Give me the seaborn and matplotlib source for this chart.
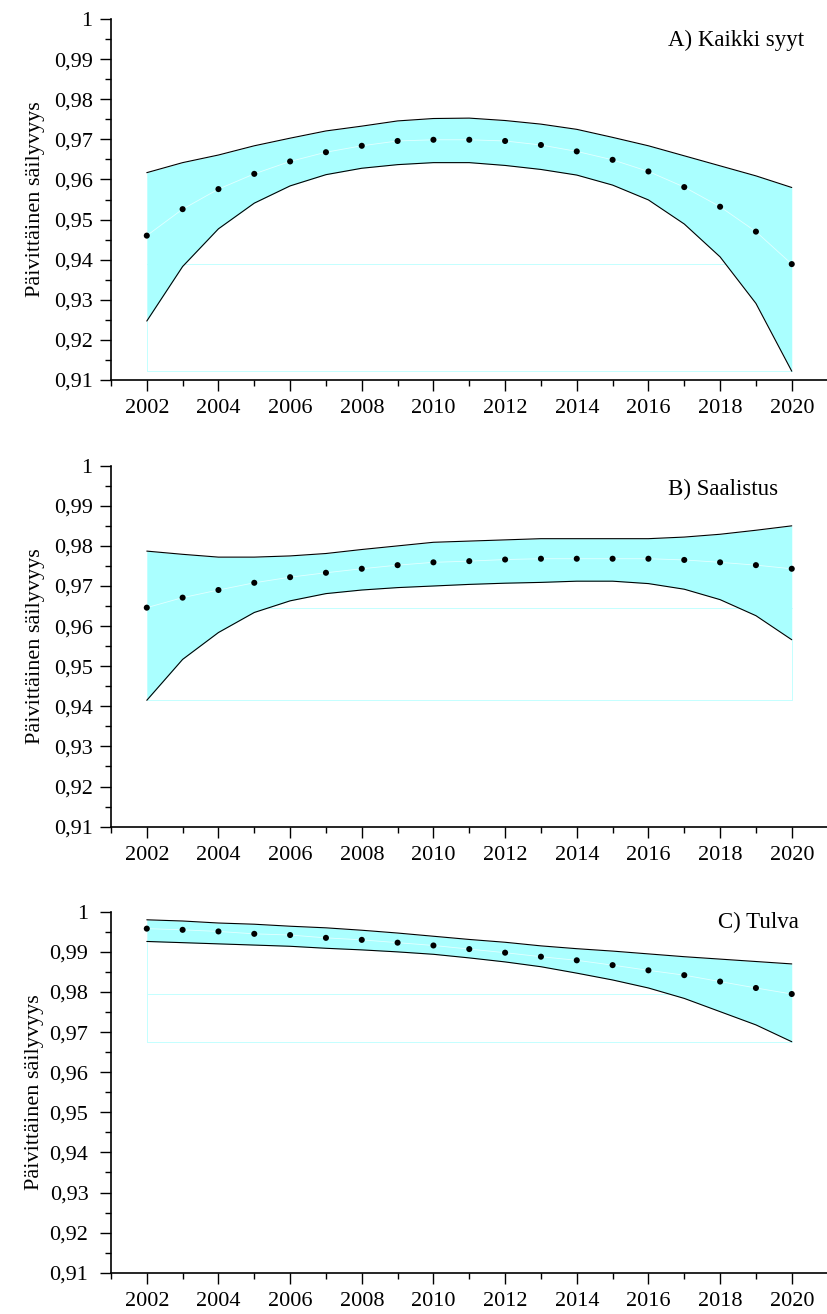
import numpy as np
import pandas as pd
import seaborn as sns
import matplotlib
matplotlib.use('Agg')
import matplotlib.pyplot as plt
from matplotlib.ticker import MultipleLocator, FuncFormatter

sns.set_theme(style='ticks')
plt.rcParams['font.family'] = ['Liberation Serif', 'DejaVu Serif']

years = list(range(2002, 2021))

# A) Kaikki syyt
a_mean = [0.9460, 0.9526, 0.9576, 0.9614, 0.9645, 0.9668, 0.9684, 0.9696, 0.9699, 0.9699,
          0.9696, 0.9686, 0.9670, 0.9649, 0.9620, 0.9581, 0.9532, 0.9470, 0.9389]
a_upper = [0.9617, 0.9642, 0.9661, 0.9684, 0.9703, 0.9721, 0.9733, 0.9746, 0.9752, 0.9753,
           0.9747, 0.9738, 0.9725, 0.9705, 0.9684, 0.9659, 0.9634, 0.9609, 0.9580]
a_lower = [0.9247, 0.9383, 0.9477, 0.9541, 0.9584, 0.9612, 0.9628, 0.9637, 0.9642, 0.9642,
           0.9635, 0.9625, 0.9611, 0.9586, 0.9549, 0.9489, 0.9407, 0.9291, 0.9122]

# B) Saalistus
b_mean = [0.9646, 0.9671, 0.9690, 0.9708, 0.9722, 0.9733, 0.9743, 0.9752, 0.9759, 0.9762,
          0.9766, 0.9768, 0.9768, 0.9768, 0.9768, 0.9765, 0.9759, 0.9752, 0.9743]
b_upper = [0.9787, 0.9779, 0.9772, 0.9772, 0.9775, 0.9781, 0.9791, 0.9800, 0.9809, 0.9812,
           0.9815, 0.9818, 0.9818, 0.9818, 0.9818, 0.9822, 0.9829, 0.9839, 0.9850]
b_lower = [0.9415, 0.9517, 0.9584, 0.9634, 0.9663, 0.9681, 0.9690, 0.9696, 0.9700, 0.9704,
           0.9707, 0.9709, 0.9712, 0.9712, 0.9706, 0.9692, 0.9666, 0.9626, 0.9566]

# C) Tulva
c_mean = [0.9958, 0.9955, 0.9951, 0.9945, 0.9942, 0.9935, 0.9930, 0.9923, 0.9916, 0.9907,
          0.9898, 0.9888, 0.9879, 0.9867, 0.9854, 0.9842, 0.9826, 0.9810, 0.9795]
c_upper = [0.9980, 0.9977, 0.9972, 0.9969, 0.9964, 0.9960, 0.9954, 0.9947, 0.9939, 0.9931,
           0.9924, 0.9915, 0.9908, 0.9902, 0.9895, 0.9888, 0.9882, 0.9876, 0.9870]
c_lower = [0.9926, 0.9923, 0.9920, 0.9917, 0.9914, 0.9909, 0.9905, 0.9900, 0.9894, 0.9885,
           0.9875, 0.9863, 0.9847, 0.9830, 0.9810, 0.9784, 0.9751, 0.9718, 0.9676]

panels = [
    ('A) Kaikki syyt', a_mean, a_upper, a_lower, 2016.55, 0.99335),
    ('B) Saalistus', b_mean, b_upper, b_lower, 2016.55, 0.99262),
    ('C) Tulva', c_mean, c_upper, c_lower, 2017.95, 0.99602),
]

band_col = '#aaffff'
ghost_col = '#c4ffff'

fig = plt.figure(figsize=(8.28, 13.14), dpi=100)
bottoms = [0.7108, 0.3709, 0.0314]
ypads = [5.5, 5.5, 8.5]
lpads = [6, 6, 4]
height = 0.2747
left = 0.134
width = 0.8655

for (title, mean, upper, lower, tx, ty), bottom, yp, lp in zip(panels, bottoms, ypads, lpads):
    ax = fig.add_axes([left, bottom, width, height])
    df = pd.DataFrame({'year': years, 'mean': mean, 'upper': upper, 'lower': lower})

    # faint edges left by the original fill routine
    i_min = int(np.argmin(df['lower']))
    base = df['lower'].min()
    ax.plot([years[0], years[-1]], [base, base], color=ghost_col, lw=0.7, zorder=1)
    ax.plot([years[0], years[-1]], [df['mean'][i_min]] * 2, color=ghost_col, lw=0.7, zorder=1)
    for i in (0, len(years) - 1):
        ax.plot([years[i], years[i]], [df['lower'][i], base], color=ghost_col, lw=0.7, zorder=1)

    ax.fill_between(df['year'], df['lower'], df['upper'], color=band_col, lw=0, zorder=2)
    sns.lineplot(data=df, x='year', y='mean', ax=ax, color='#e2ffff', lw=0.6, zorder=3)
    sns.lineplot(data=df, x='year', y='upper', ax=ax, color='black', lw=0.8, zorder=4)
    sns.lineplot(data=df, x='year', y='lower', ax=ax, color='black', lw=0.8, zorder=4)
    sns.scatterplot(data=df, x='year', y='mean', ax=ax, color='black', s=19,
                    edgecolor='none', zorder=5)

    ax.set_xlim(2001, 2021)
    ax.set_ylim(0.91, 1.0)
    ax.xaxis.set_major_locator(MultipleLocator(2))
    ax.xaxis.set_minor_locator(MultipleLocator(1))
    ax.yaxis.set_major_locator(MultipleLocator(0.01))
    ax.yaxis.set_minor_locator(MultipleLocator(0.005))
    ax.yaxis.set_major_formatter(FuncFormatter(
        lambda v, p: '1' if abs(v - 1) < 1e-9 else f'{v:.2f}'.replace('.', ',')))
    ax.tick_params(axis='both', which='major', length=7.7, width=1.0, labelsize=16,
                   direction='out', color='black', labelcolor='black')
    ax.tick_params(axis='both', which='minor', length=4.1, width=1.0, direction='out',
                   color='black')
    ax.tick_params(axis='x', pad=6)
    ax.tick_params(axis='y', pad=yp)
    sns.despine(ax=ax)
    for s in ('left', 'bottom'):
        ax.spines[s].set_linewidth(1.2)
        ax.spines[s].set_color('black')
    ax.set_facecolor('white')
    ax.set_xlabel('')
    ax.set_ylabel('Päivittäinen säilyvyys', fontsize=16, color='black', labelpad=lp)
    ax.text(tx, ty, title, fontsize=16.5, ha='left', va='baseline', color='black')

fig.savefig('out.png', dpi=100, facecolor='white')
